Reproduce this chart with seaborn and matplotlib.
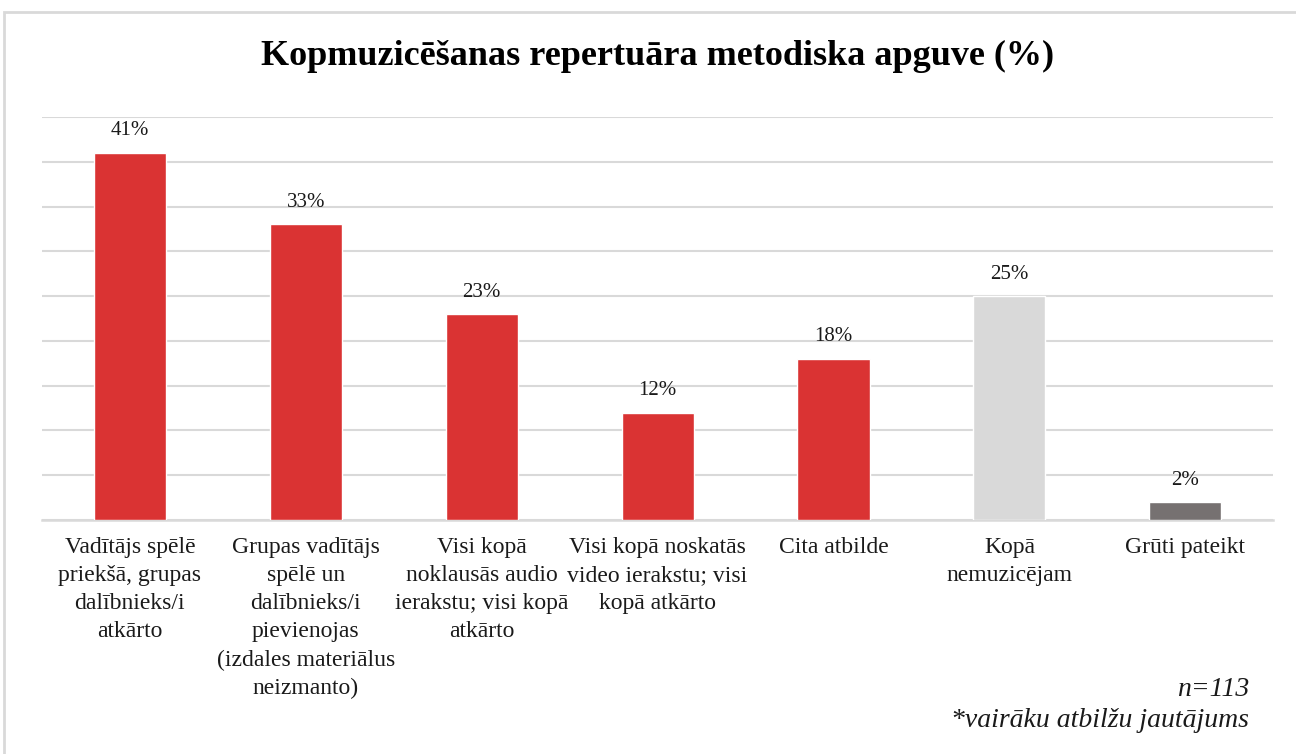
import pandas as pd
import seaborn as sns
import matplotlib.pyplot as plt
from matplotlib.patches import Rectangle

# dati
categories = [
    "Vadītājs spēlē\npriekšā, grupas\ndalībnieks/i\natkārto",
    "Grupas vadītājs\nspēlē un\ndalībnieks/i\npievienojas\n(izdales materiālus\nneizmanto)",
    "Visi kopā\nnoklausās audio\nierakstu; visi kopā\natkārto",
    "Visi kopā noskatās\nvideo ierakstu; visi\nkopā atkārto",
    "Cita atbilde",
    "Kopā\nnemuzicējam",
    "Grūti pateikt",
]
values = [41, 33, 23, 12, 18, 25, 2]
colors = ["#DA3333", "#DA3333", "#DA3333", "#DA3333", "#DA3333", "#D9D9D9", "#767171"]

title = "Kopmuzicēšanas repertuāra metodiska apguve (%)"
note_n = "n=113"
note_multi = "*vairāku atbilžu jautājums"


def set_config():
    sns.set_theme(style="white")
    plt.rcParams["font.family"] = ["Liberation Serif", "DejaVu Serif"]


def draw():
    df = pd.DataFrame({"category": categories, "value": values})

    fig = plt.figure(figsize=(12.96, 7.54), dpi=100)
    ax = fig.add_axes([0.0324, 0.3103, 0.950, 0.5345])

    sns.barplot(
        data=df, x="category", y="value", hue="category",
        palette=colors, saturation=1, legend=False, width=0.41, ax=ax, zorder=3,
    )

    ax.set_ylim(0, 45)
    ax.set_yticks(range(0, 50, 5))
    ax.set_yticklabels([])
    ax.tick_params(axis="y", length=0)
    ax.tick_params(axis="x", length=0, pad=12)
    ax.grid(axis="y", color="#D9D9D9", linewidth=1.5, zorder=0)
    for s in ["left", "right", "top"]:
        ax.spines[s].set_visible(False)
    ax.spines["bottom"].set_color("#D9D9D9")
    ax.spines["bottom"].set_linewidth(1.8)
    ax.set_xlabel("")
    ax.set_ylabel("")

    ax.set_xticks(range(len(categories)))
    ax.set_xticklabels(categories, fontsize=17, linespacing=1.45,
                       va="top", color="#1a1a1a")

    # vērtību etiķetes
    for i, v in enumerate(values):
        ax.annotate(f"{v}%", (i, v), xytext=(0, 9), textcoords="offset points",
                    ha="center", va="bottom", fontsize=15, color="#1a1a1a")

    fig.text(0.507, 0.925, title, ha="center", va="center",
             fontsize=26, fontweight="bold", color="black")
    fig.text(0.964, 0.085, note_n, ha="right", va="center",
             fontsize=20, style="italic", color="#1a1a1a")
    fig.text(0.964, 0.045, note_multi, ha="right", va="center",
             fontsize=20, style="italic", color="#1a1a1a")

    # ārējais rāmis
    fig.patches.append(Rectangle((0.003, -0.05), 1.05, 1.034, transform=fig.transFigure,
                                 fill=False, edgecolor="#D9D9D9", linewidth=2))

    fig.savefig("out.png", dpi=100, facecolor="white")


def main():
    set_config()
    draw()


if __name__ == "__main__":
    main()
